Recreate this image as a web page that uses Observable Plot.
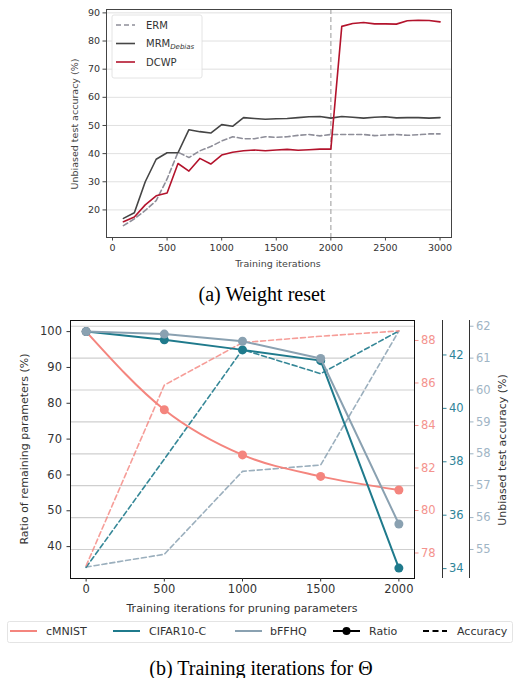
<!DOCTYPE html>
<html><head><meta charset="utf-8">
<script src="https://cdn.jsdelivr.net/npm/d3@7"></script>
<script src="https://cdn.jsdelivr.net/npm/@observablehq/plot@0.6"></script>
<style>
body{margin:0;background:#fff;}
#root{position:relative;width:516px;height:678px;overflow:hidden;background:#fff;}
.layer{position:absolute;left:0;}
.layer svg{overflow:visible;}
</style></head><body><div id="root"></div>
<script>
// ---------- (a) Weight reset ----------
const iters = [100,200,300,400,500,600,700,800,900,1000,1100,1200,1300,1400,1500,1600,1700,1800,1900,2000,2100,2200,2300,2400,2500,2600,2700,2800,2900,3000];
const erm  = [14.4,16.8,19.8,23.3,31,40.5,38.6,41,42.5,44.5,46,45.3,45.3,46,45.8,46,46.5,46.8,46.3,46.8,46.8,46.8,46.8,46.4,46.6,46.8,46.5,46.7,47,47];
const mrm  = [17,19,30,38,40.3,40.3,48.5,47.8,47.3,50.3,49.7,52.8,52.5,52.2,52.4,52.5,52.8,53.1,53.2,52.6,53.2,52.9,52.6,52.9,53.1,52.7,52.8,52.8,52.6,52.8];
const dcwp = [15.8,17.5,21.8,25,26,36.5,33.8,38.3,36.3,39.5,40.5,41,41.3,41,41.3,41.5,41.2,41.4,41.6,41.6,85.2,86.2,86.6,86.1,86.1,86,87.2,87.4,87.3,86.8];
const resetAt = [2000];
const topXTicks = [0,500,1000,1500,2000,2500,3000];
const topYTicks = [20,30,40,50,60,70,80,90];

// ---------- (b) Training iterations for Theta ----------
const pruneIters = [0,500,1000,1500,2000];
const cmnistRatio = [100,78.2,65.6,59.6,55.8];
const cifarRatio  = [100,97.7,94.9,91.9,34.0];
const bffhqRatio  = [100,99.3,97.3,92.5,46.3];
const cmnistAcc = [77.4,85.9,87.9,88.2,88.45];
const cifarAcc  = [34.05,38.1,42.2,41.3,42.9];
const bffhqAcc  = [54.45,54.85,57.45,57.65,61.85];
const ratioTicks  = [40,50,60,70,80,90,100];
const cmnistTicks = [78,80,82,84,86,88];
const cifarTicks  = [34,36,38,40,42];
const bffhqTicks  = [55,56,57,58,59,60,61,62];

const C = {erm:"#8e8e99", mrm:"#454545", dcwp:"#b3132c",
  cm:"#f4857e", ci:"#1f7a8c", bf:"#8aa1b1",
  cmT:"#f4938e", ciT:"#2f8499", bfT:"#9fb5c5"};

const root = document.getElementById("root");
function place(svg, top){ const d=document.createElement("div"); d.className="layer"; d.style.top=top+"px"; d.appendChild(svg); root.appendChild(d); }

const topData = iters.map((x,i)=>({x, erm:erm[i], mrm:mrm[i], dcwp:dcwp[i]}));
const fmt = d3.format("d");

const topPlot = Plot.plot({
  width:516, height:280, marginLeft:106, marginRight:65, marginTop:9, marginBottom:43,
  style:{background:"transparent", fontFamily:"DejaVu Sans", fontSize:"9.5px", color:"#333"},
  x:{domain:[-55,3105], axis:null},
  y:{domain:[10.2,91.2], axis:null},
  marks:[
    Plot.gridY(topYTicks, {stroke:"#dcdcdc", strokeOpacity:1, strokeWidth:0.9}),
    Plot.ruleX(resetAt, {stroke:"#b0b0b0", strokeWidth:1.3, strokeDasharray:"5,3"}),
    Plot.line(topData, {x:"x", y:"erm", stroke:C.erm, strokeWidth:1.6, strokeDasharray:"5,3"}),
    Plot.line(topData, {x:"x", y:"mrm", stroke:C.mrm, strokeWidth:1.6}),
    Plot.line(topData, {x:"x", y:"dcwp", stroke:C.dcwp, strokeWidth:1.6}),
    Plot.frame({stroke:"#444", strokeWidth:1}),
    Plot.axisX(topXTicks, {tickSize:3.5, tickPadding:3, tickFormat:fmt, label:null, stroke:"#444", fill:"#333"}),
    Plot.axisY(topYTicks, {tickSize:3.5, tickPadding:3, tickFormat:fmt, label:null, stroke:"#444", fill:"#333"})
  ]
});
place(topPlot, 0);

const bData = pruneIters.map((x,i)=>({x, cmr:cmnistRatio[i], cir:cifarRatio[i], bfr:bffhqRatio[i], cma:cmnistAcc[i], cia:cifarAcc[i], bfa:bffhqAcc[i]}));
function layer(yDomain, marks){
  return Plot.plot({
    width:516, height:310, marginLeft:70, marginRight:102, marginTop:10, marginBottom:42,
    style:{background:"transparent", fontFamily:"DejaVu Sans", fontSize:"11.5px", color:"#333"},
    x:{domain:[-100,2100], axis:null},
    y:{domain:yDomain, axis:null},
    marks
  });
}
const xEdge = [2100];
place(layer([54.09,62.18], [
  Plot.gridY(bffhqTicks, {stroke:"#cfcfcf", strokeOpacity:1, strokeWidth:1.2}),
  Plot.line(bData, {x:"x", y:"bfa", stroke:C.bf, strokeOpacity:0.85, strokeWidth:1.6, strokeDasharray:"5,3"}),
  Plot.ruleX(xEdge, {dx:55, stroke:"#333", strokeWidth:1}),
  Plot.axisY(bffhqTicks, {anchor:"right", dx:55, tickSize:3.5, tickPadding:3, tickFormat:fmt, label:null, stroke:C.bfT, fill:C.bfT})
]), 310);
place(layer([33.63,43.29], [
  Plot.line(bData, {x:"x", y:"cia", stroke:C.ci, strokeOpacity:0.9, strokeWidth:1.6, strokeDasharray:"5,3"}),
  Plot.ruleX(xEdge, {dx:28, stroke:"#333", strokeWidth:1}),
  Plot.axisY(cifarTicks, {anchor:"right", dx:28, tickSize:3.5, tickPadding:3, tickFormat:fmt, label:null, stroke:C.ciT, fill:C.ciT})
]), 310);
place(layer([76.8,88.94], [
  Plot.line(bData, {x:"x", y:"cma", stroke:C.cm, strokeOpacity:0.8, strokeWidth:1.6, strokeDasharray:"5,3"}),
  Plot.axisY(cmnistTicks, {anchor:"right", tickSize:3.5, tickPadding:3, tickFormat:fmt, label:null, stroke:C.cmT, fill:C.cmT})
]), 310);
place(layer([31.1,103.1], [
  Plot.line(bData, {x:"x", y:"cmr", stroke:C.cm, strokeWidth:2, curve:"monotone-x"}),
  Plot.dot(bData, {x:"x", y:"cmr", fill:C.cm, r:4.5}),
  Plot.line(bData, {x:"x", y:"cir", stroke:C.ci, strokeWidth:2}),
  Plot.dot(bData, {x:"x", y:"cir", fill:C.ci, r:4.5}),
  Plot.line(bData, {x:"x", y:"bfr", stroke:C.bf, strokeWidth:2}),
  Plot.dot(bData, {x:"x", y:"bfr", fill:C.bf, r:4.5}),
  Plot.frame({stroke:"#111", strokeWidth:1}),
  Plot.axisX(pruneIters, {tickSize:3.5, tickPadding:3, tickFormat:fmt, label:null, stroke:"#333", fill:"#333"}),
  Plot.axisY(ratioTicks, {tickSize:3.5, tickPadding:5, tickFormat:fmt, label:null, stroke:"#333", fill:"#333"})
]), 310);

// ---------- text, legends, captions ----------
const ov = `
<svg xmlns="http://www.w3.org/2000/svg" width="516" height="678" style="position:absolute;left:0;top:0;pointer-events:none" font-family="DejaVu Sans">
  <text x="278" y="266.5" font-size="9.5" fill="#444" text-anchor="middle">Training iterations</text>
  <text transform="translate(78,124) rotate(-90)" font-size="9.5" fill="#444" text-anchor="middle">Unbiased test accuracy (%)</text>
  <rect x="112" y="15" width="90" height="63" rx="2" fill="#fff" fill-opacity="0.85" stroke="#ddd" stroke-width="0.8"/>
  <line x1="116" y1="25" x2="135" y2="25" stroke="${C.erm}" stroke-width="1.6" stroke-dasharray="5,3"/>
  <text x="146" y="28.5" font-size="10" fill="#333">ERM</text>
  <line x1="116" y1="43.5" x2="135" y2="43.5" stroke="${C.mrm}" stroke-width="1.6"/>
  <text x="146" y="47" font-size="10" fill="#333">MRM<tspan font-size="7" font-style="italic" dy="2">Debias</tspan></text>
  <line x1="116" y1="62" x2="135" y2="62" stroke="${C.dcwp}" stroke-width="1.6"/>
  <text x="146" y="65.5" font-size="10" fill="#333">DCWP</text>
  <text x="262" y="301" font-size="20" font-family="Liberation Serif, Times New Roman, serif" fill="#000" text-anchor="middle">(a) Weight reset</text>

  <text x="242" y="612" font-size="11" fill="#333" text-anchor="middle">Training iterations for pruning parameters</text>
  <text transform="translate(28,449) rotate(-90)" font-size="11" fill="#333" text-anchor="middle">Ratio of remaining parameters (%)</text>
  <text transform="translate(506,450) rotate(-90)" font-size="11" fill="#333" text-anchor="middle">Unbiased test accuracy (%)</text>
  <rect x="7.5" y="621.5" width="505" height="21" rx="2" fill="#fff" stroke="#ddd" stroke-width="0.8"/>
  <line x1="10" y1="631" x2="37" y2="631" stroke="${C.cm}" stroke-width="2"/>
  <text x="46" y="635" font-size="11" fill="#333">cMNIST</text>
  <line x1="113" y1="631" x2="140" y2="631" stroke="${C.ci}" stroke-width="2"/>
  <text x="149" y="635" font-size="11" fill="#333">CIFAR10-C</text>
  <line x1="235" y1="631" x2="262" y2="631" stroke="${C.bf}" stroke-width="2"/>
  <text x="270" y="635" font-size="11" fill="#333">bFFHQ</text>
  <line x1="333" y1="631" x2="360" y2="631" stroke="#000" stroke-width="2"/>
  <circle cx="346.5" cy="631" r="4" fill="#000"/>
  <text x="369" y="635" font-size="11" fill="#333">Ratio</text>
  <line x1="423" y1="631" x2="447" y2="631" stroke="#000" stroke-width="2" stroke-dasharray="6,3.5"/>
  <text x="457" y="635" font-size="11" fill="#333">Accuracy</text>
  <text x="261" y="675" font-size="20" font-family="Liberation Serif, Times New Roman, serif" fill="#000" text-anchor="middle">(b) Training iterations for Θ</text>
</svg>`;
root.insertAdjacentHTML("beforeend", ov);
</script>
</body></html>
